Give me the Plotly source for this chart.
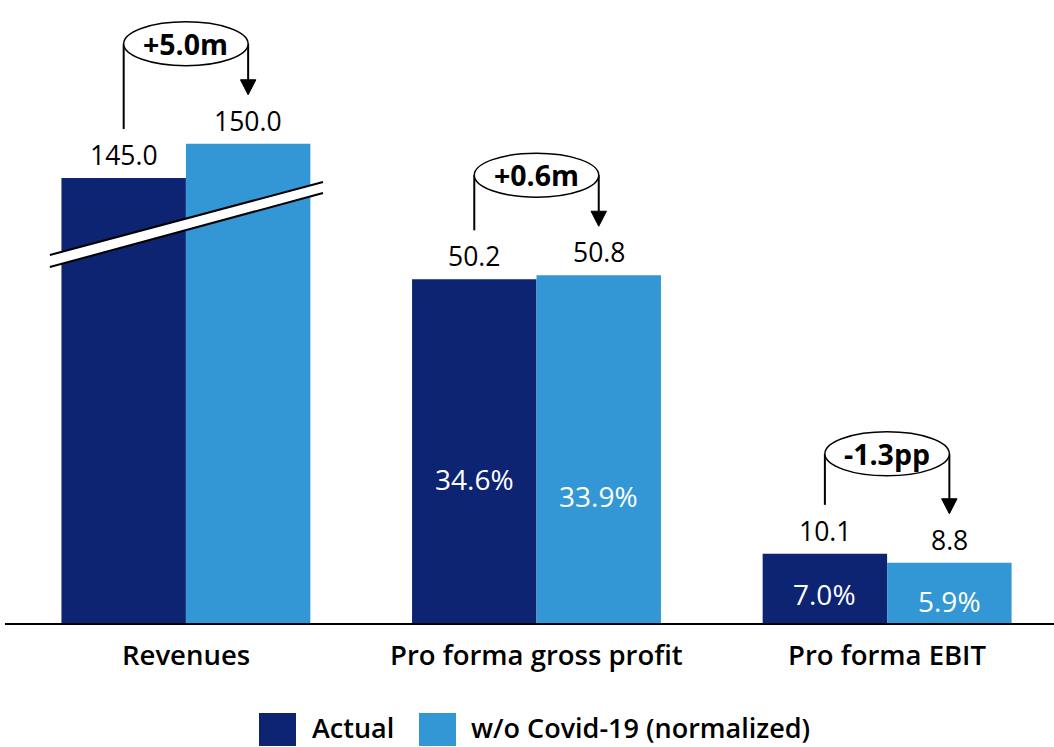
import plotly.graph_objects as go

# ---- data ----
categories = ["Revenues", "Pro forma gross profit", "Pro forma EBIT"]
actual_values = [145.0, 50.2, 10.1]
normalized_values = [150.0, 50.8, 8.8]
actual_margin = [None, "34.6%", "7.0%"]
normalized_margin = [None, "33.9%", "5.9%"]
delta_labels = ["+5.0m", "+0.6m", "-1.3pp"]
series_names = ["Actual", "w/o Covid-19 (normalized)"]
axis_break = [80.0, 0.0, 0.0]   # value removed by the broken axis for each category

DARK = "#0D2472"
LIGHT = "#3497D5"
FONT = "Open Sans"

W, H = 1054, 747
ML, MR, MT, MB = 5, 0, 0, 124
Y_MAX = 91.0
X_RANGE = [-0.516, 2.476]
BARGAP = 0.29
half = (1 - BARGAP) / 4  # offset of each bar centre from the category centre

shown_actual = [v - b for v, b in zip(actual_values, axis_break)]
shown_norm = [v - b for v, b in zip(normalized_values, axis_break)]
xs = list(range(len(categories)))

plot_h = H - MT - MB
px_per_unit = plot_h / Y_MAX


def u(px):
    return px / px_per_unit


fig = go.Figure()
fig.add_trace(go.Bar(x=xs, y=shown_actual, name=series_names[0], marker_color=DARK,
                     marker_line_width=0, showlegend=False, hoverinfo="skip"))
fig.add_trace(go.Bar(x=xs, y=shown_norm, name=series_names[1], marker_color=LIGHT,
                     marker_line_width=0, showlegend=False, hoverinfo="skip"))

shapes = []
annotations = []

for i in xs:
    xl, xr = i - half, i + half
    ya, yn = shown_actual[i], shown_norm[i]
    # value labels
    annotations.append(dict(x=xl, y=ya, text=f"{actual_values[i]:.1f}", showarrow=False,
                            yanchor="middle", yshift=23, font=dict(size=26.5, color="black", family=FONT)))
    annotations.append(dict(x=xr, y=yn, text=f"{normalized_values[i]:.1f}", showarrow=False,
                            yanchor="middle", yshift=23, font=dict(size=26.5, color="black", family=FONT)))
    # margin labels inside bars
    if actual_margin[i]:
        annotations.append(dict(x=xl, y=ya * 0.42, text=actual_margin[i], showarrow=False,
                                yanchor="middle", font=dict(size=28, color="white", family=FONT)))
    if normalized_margin[i]:
        annotations.append(dict(x=xr, y=yn * 0.365, text=normalized_margin[i], showarrow=False,
                                yanchor="middle", font=dict(size=28, color="white", family=FONT)))
    # bracket with ellipse
    ey = max(ya, yn) + u(100)
    eh = u(22)
    shapes.append(dict(type="line", x0=xl, x1=xl, y0=ya + u(49), y1=ey,
                       line=dict(color="black", width=2)))
    tip = yn + u(49)
    ah = u(15)
    shapes.append(dict(type="line", x0=xr, x1=xr, y0=ey, y1=tip + ah,
                       line=dict(color="black", width=2)))
    aw = 0.022
    shapes.append(dict(type="path",
                       path=f"M {xr - aw},{tip + ah} L {xr + aw},{tip + ah} L {xr},{tip} Z",
                       fillcolor="black", line=dict(color="black", width=1)))
    shapes.append(dict(type="circle", x0=xl, x1=xr, y0=ey - eh, y1=ey + eh,
                       fillcolor="white", line=dict(color="black", width=1.5)))
    annotations.append(dict(x=i, y=ey, text=delta_labels[i], showarrow=False,
                            yanchor="middle",
                            font=dict(size=28.5, color="black", family=FONT, weight=700)))
    # category label
    annotations.append(dict(x=i, y=0, text=categories[i], showarrow=False,
                            yanchor="middle", yshift=-31,
                            font=dict(size=27.5, color="black", family=FONT, weight=600)))

# axis-break mark across the revenues bars
bx0, bx1 = -0.388, 0.391
up0, up1 = u(623 - 255), u(623 - 182)
lo0, lo1 = u(623 - 267), u(623 - 193)
shapes.append(dict(type="path",
                   path=f"M {bx0},{up0} L {bx1},{up1} L {bx1},{lo1} L {bx0},{lo0} Z",
                   fillcolor="white", line=dict(width=0)))
shapes.append(dict(type="line", x0=bx0, x1=bx1, y0=up0, y1=up1, line=dict(color="black", width=2)))
shapes.append(dict(type="line", x0=bx0, x1=bx1, y0=lo0, y1=lo1, line=dict(color="black", width=2)))


# custom legend (paper coordinates from pixels)
def pxx(px):
    return (px - ML) / (W - ML - MR)


def pyy(py):
    return (H - MB - py) / plot_h


legend_items = [(259, 296, 310, series_names[0], DARK), (419, 456, 469, series_names[1], LIGHT)]
for sx0, sx1, tx, name, col in legend_items:
    shapes.append(dict(type="rect", xref="paper", yref="paper", x0=pxx(sx0), x1=pxx(sx1),
                       y0=pyy(746), y1=pyy(713), fillcolor=col, line=dict(width=0)))
    annotations.append(dict(xref="paper", yref="paper", x=pxx(tx), y=pyy(727), text=name,
                            showarrow=False, xanchor="left", yanchor="middle",
                            font=dict(size=27, color="black", family=FONT, weight=600)))

fig.update_layout(
    width=W, height=H,
    margin=dict(l=ML, r=MR, t=MT, b=MB),
    barmode="group", bargap=BARGAP, bargroupgap=0,
    plot_bgcolor="white", paper_bgcolor="white",
    hovermode=False,
    xaxis=dict(range=X_RANGE, showticklabels=False, showgrid=False, zeroline=False,
               showline=True, linecolor="black", linewidth=2, fixedrange=True),
    yaxis=dict(range=[0, Y_MAX], visible=False, showgrid=False, zeroline=False, fixedrange=True),
    shapes=shapes, annotations=annotations,
    font=dict(family=FONT),
)

fig.write_html("out.html", config={"displayModeBar": False},
               post_script="document.body.style.margin='0';")
